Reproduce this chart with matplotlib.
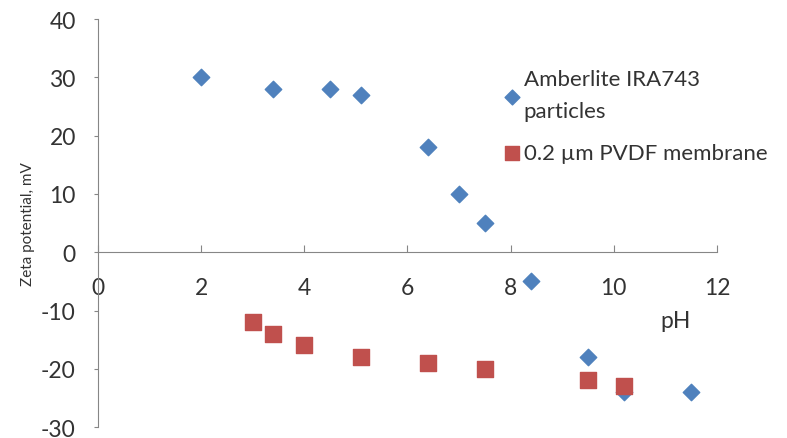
import numpy as np
import matplotlib.pyplot as plt

plt.rcParams.update({
    "font.family": ["Lato", "DejaVu Sans"],
    "figure.facecolor": "white",
    "axes.unicode_minus": False,
})

# Data
ph_amberlite = [2, 3.4, 4.5, 5.1, 6.4, 7, 7.5, 8.4, 9.5, 10.2, 11.5]
zeta_amberlite = [30, 28, 28, 27, 18, 10, 5, -5, -18, -24, -24]

ph_pvdf = [3, 3.4, 4, 5.1, 6.4, 7.5, 9.5, 10.2]
zeta_pvdf = [-12, -14, -16, -18, -19, -20, -22, -23]

label_amberlite = "Amberlite IRA743\nparticles"
label_pvdf = "0.2 µm PVDF membrane"

x_ticks = [0, 2, 4, 6, 8, 10, 12]
y_ticks = [-30, -20, -10, 0, 10, 20, 30, 40]

fig = plt.figure(figsize=(7.87, 4.39), dpi=100)
ax = fig.add_axes([0.1245, 0.025, 0.7865, 0.929])

ax.scatter(ph_amberlite, zeta_amberlite, marker="D", s=70, color="#4F81BD",
           label=label_amberlite, zorder=3)
ax.scatter(ph_pvdf, zeta_pvdf, marker="s", s=120, color="#C0504D",
           label=label_pvdf, zorder=3)

ax.set_xlim(0, 12)
ax.set_ylim(-30, 40)
ax.set_xticks(x_ticks)
ax.set_yticks(y_ticks)

# Excel-like axes: x axis crossing at y = 0
for side in ["top", "right"]:
    ax.spines[side].set_visible(False)
ax.spines["bottom"].set_position(("data", 0))
ax.spines["bottom"].set_color("#868686")
ax.spines["left"].set_color("#868686")
ax.tick_params(axis="x", direction="in", length=5, color="#868686",
               labelsize=16.5, pad=18, labelcolor="#333333")
ax.tick_params(axis="y", direction="out", length=3, color="#868686",
               labelsize=16.5, pad=13, labelcolor="#333333")

ax.set_ylabel("Zeta potential, mV", fontsize=11, color="#333333", labelpad=4)
ax.text(11.2, -11.8, "pH", fontsize=16.5, color="#333333", ha="center", va="center")

leg = ax.legend(loc="upper left", bbox_to_anchor=(0.636, 0.90), frameon=False,
                fontsize=16, handletextpad=0.05, labelspacing=1.0,
                borderaxespad=0, handlelength=1.0, markerscale=0.9)
for t in leg.get_texts():
    t.set_color("#333333")
    t.set_linespacing(1.75)

fig.savefig("out.png", dpi=100)
